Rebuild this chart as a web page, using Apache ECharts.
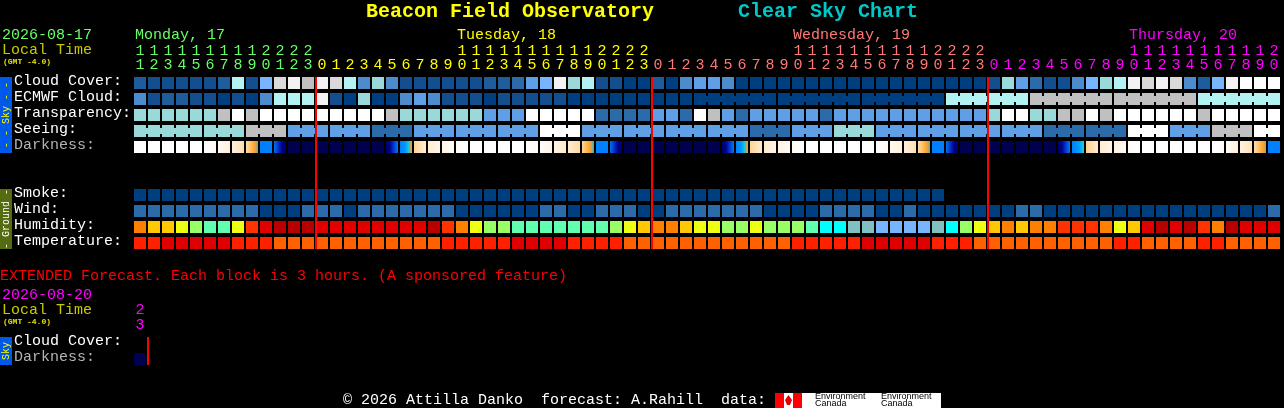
<!DOCTYPE html>
<html><head><meta charset="utf-8">
<style>html,body{margin:0;padding:0;background:#000}#c{width:1284px;height:408px}</style>
<script src="https://cdn.jsdelivr.net/npm/echarts@6/dist/echarts.min.js"></script>
</head><body><div id="c"></div>
<script>
const hours=[11,12,13,14,15,16,17,18,19,20,21,22,23,
0,1,2,3,4,5,6,7,8,9,10,11,12,13,14,15,16,17,18,19,20,21,22,23,
0,1,2,3,4,5,6,7,8,9,10,11,12,13,14,15,16,17,18,19,20,21,22,23,
0,1,2,3,4,5,6,7,8,9,10,11,12,13,14,15,16,17,18,19,20];
const skyRowNames=['Cloud Cover:','ECMWF Cloud:','Transparency:','Seeing:','Darkness:'];
const groundRowNames=['Smoke:','Wind:','Humidity:','Temperature:'];
const dayLabels=[['Monday, 17',135],['Tuesday, 18',457],['Wednesday, 19',793],['Thursday, 20',1129]];
const midnightAfter=[12,36,60];

const cloudCover=[2,1,1,1,1,1,2,8,1,6, 10,11,9,11,10,8,4,7,4,1, 1,1,1,1,1,2,2,3,5,6, 11,7,8,1,1,0,0,2,0,4, 5,5,4,0,0,0,0,0,0,0, 0,0,0,0,0,0,0,0,0,0, 0,1,7,5,3,1,1,4,6,7, 8,11,10,11,10,4,2,6,11,12, 12,12];
const ecmwfCloud=[4,1,2,2,1,1,0,1,0,4, 8,8,8,11,1,0,7,0,0,4, 5,4,1,1,1,0,1,1,1,1, 1,0,0,0,0,0,0,0,0,0, 0,0,0,0,0,0,0,0,0,0, 0,0,0,0,0,0,0,0,8,8, 8,8,8,8,9,9,9,9,9,9, 9,9,9,9,9,9,8,8,8,8, 8,8];
const transparency=[7,7,7,7,7,7,9,12,9,12, 12,12,12,12,12,12,12,12,9,7, 7,7,7,7,7,5,5,5,12,12, 12,12,12,3,3,3,3,5,5,3, 12,9,5,3,5,5,5,5,5,3, 5,5,5,5,5,5,5,5,5,5, 5,7,12,12,7,7,9,9,12,9, 12,12,12,12,12,12,9,12,12,12, 12,12];
const seeing=[7,7,7,7,7,7,7,7,9,9, 9,5,5,5,5,5,5,3,3,3, 5,5,5,5,5,5,5,5,5,12, 12,12,5,5,5,5,5,5,5,5, 5,5,5,5,3,3,3,5,5,5, 7,7,7,5,5,5,5,5,5,5, 5,5,5,5,5,3,3,3,3,3, 3,12,12,12,5,5,5,9,9,9, 12,12];
const darknessFrom=[1,1,1,1,1,1,.94,.84,.66,.22, .2,0,0,0,0,0,0,0,.02,.22, .62,.8,.9,.95,1,1,1,1,1,.96, .88,.78,.62,.22,.2,0,0,0,0,0, 0,0,.02,.22,.62,.8,.88,.94,1,1, 1,1,1,1,.92,.84,.66,.22,.2,0, 0,0,0,0,0,0,.02,.22,.6,.8, .88,.96,1,1,1,1,1,1,.95,.85, .66,.22];
const darknessTo=[1,1,1,1,1,.94,.84,.68,.34,.22, .02,0,0,0,0,0,0,0,.21,.4, .8,.9,.95,1,1,1,1,1,.96,.88, .78,.66,.33,.22,.02,0,0,0,0,0, 0,0,.21,.4,.78,.88,.94,1,1,1, 1,1,1,.94,.86,.7,.34,.22,.02,0, 0,0,0,0,0,0,.21,.36,.78,.88, .94,1,1,1,1,1,1,.95,.85,.7, .36,.22];
const smoke=[0,0,0,0,0,0,0,0,0,0, 0,0,0,0,0,0,0,0,0,0, 0,0,0,0,0,0,0,0,0,0, 0,0,0,0,0,0,0,0,0,0, 0,0,0,0,0,0,0,0,0,0, 0,0,0,0,0,0,0,0];
const wind=[3,3,3,3,3,3,3,3,3,0, 0,0,3,3,3,0,3,3,3,3, 3,3,3,0,0,0,0,0,0,3, 3,0,0,3,3,3,0,0,3,3, 3,3,3,3,3,0,0,0,0,3, 3,3,3,0,0,3,0,0,0,0, 0,0,0,3,3,0,0,0,0,0, 0,0,0,0,0,0,0,0,0,0, 0,3];
const humidity=[7,6,6,5,4,3,3,5,8,9, 10,10,10,9,9,9,9,9,9,9, 9,10,8,7,5,4,4,3,3,3, 3,3,3,3,4,5,6,7,7,6, 5,5,4,4,5,4,4,4,3,2, 2,1,1,0,0,0,0,1,2,4, 5,6,7,6,7,7,8,8,8,7, 5,6,9,10,9,10,8,7,10,9, 9,9];
const temperature=[1,1,0,0,0,0,0,1,1,1, 2,2,2,2,2,2,2,2,2,2, 2,2,1,1,1,1,1,0,0,0, 0,1,1,1,1,2,2,2,2,2, 2,2,2,2,2,2,2,1,1,1, 1,1,0,0,0,0,0,1,1,1, 2,2,2,2,2,2,2,2,2,2, 1,1,2,2,2,2,1,1,2,2, 2,2];
const extHours=[23];
const extDarkness=[0];

const skyPalette=['#003F7F','#134F8F','#1F5C9C','#2C6BA9','#4C8CCC','#5F9FE5','#77B6FF','#99D9D9','#B2F2F2','#C0C0C0','#D9D9D9','#F2F2F2','#FFFFFF'];
const humidityPalette=['#77B6FF','#80C0C0','#00FFFF','#5FFFAF','#99FF66','#EEFF11','#FFC800','#FF8000','#FF3300','#E00000','#B80000'];
const tempPalette=['#E00000','#FF2000','#FF6000'];
const twilightRamp=[[0,'#000050'],[.08,'#000090'],[.15,'#0040D0'],[.22,'#0080FF'],[.3,'#0098FF'],[.34,'#00C8F0'],[.38,'#D0A050'],[.45,'#FFA830'],[.6,'#FFD090'],[.75,'#FFE8C4'],[.9,'#FFF6EA'],[1,'#FFFFFF']];
const MONO='"Liberation Mono",monospace';
const CELL=12;

function hex(c){return [1,3,5].map(i=>parseInt(c.substr(i,2),16));}
function ramp(v){
  for(let i=1;i<twilightRamp.length;i++){
    const a=twilightRamp[i-1],b=twilightRamp[i];
    if(v<=b[0]){const t=(v-a[0])/(b[0]-a[0]);const x=hex(a[1]),y=hex(b[1]);
      return 'rgb('+x.map((q,k)=>Math.round(q+(y[k]-q)*t)).join(',')+')';}
  }
  return '#FFFFFF';
}
function darkFill(a,b){
  if(a===b) return ramp(a);
  const st=[];for(let i=0;i<=10;i++){st.push({offset:i/10,color:ramp(a+(b-a)*i/10)});}
  return new echarts.graphic.LinearGradient(0,0,1,0,st);
}
function pad(n){return ''+n;}
const dayColors=['#66FF66','#FFFF00','#FF7878','#FF00FF'];
function dayOf(col){return col<13?0:col<37?1:col<61?2:3;}

const rowCats=[...skyRowNames,' ','  ',...groundRowNames];
const cells=[];
function addRow(row,vals,pal,linkFn){vals.forEach((v,col)=>{
  cells.push({value:[col,row],fill:pal[v],link:linkFn&&col<vals.length-1?linkFn(col):false});});}
addRow(0,cloudCover,skyPalette);
addRow(1,ecmwfCloud,skyPalette,c=>c>=40&&(c-40)%6!==5);
addRow(2,transparency,skyPalette);
addRow(3,seeing,skyPalette,c=>(c-2)%3!==2);
darknessFrom.forEach((a,col)=>cells.push({value:[col,4],fill:darkFill(a,darknessTo[col]),link:false}));
addRow(7,smoke,skyPalette);
addRow(8,wind,skyPalette);
addRow(9,humidity,humidityPalette);
addRow(10,temperature,tempPalette);

function renderCell(params,api){
  const d=cellsOf(params.seriesIndex)[params.dataIndex];
  const p=api.coord([d.value[0],d.value[1]]);
  const x=Math.round(p[0]-CELL/2),y=Math.round(p[1]-CELL/2);
  const children=[{type:'rect',shape:{x,y,width:CELL,height:CELL},style:{fill:d.fill}}];
  if(d.link) children.push({type:'rect',shape:{x:x+CELL,y:y+3,width:2,height:6},style:{fill:d.fill}});
  return {type:'group',children};
}
const extCells=extDarkness.map(v=>({value:[0,1],fill:ramp(v),link:false}));
function cellsOf(si){return si===0?cells:extCells;}

function renderRed(bottomRow){return function(params,api){
  const col=api.value(0);
  const t=api.coord([col,0]),b=api.coord([col,bottomRow]);
  return {type:'rect',shape:{x:Math.round(t[0]+7),y:Math.round(t[1]-CELL/2),width:2,height:Math.round(b[1]+CELL/2)-Math.round(t[1]-CELL/2)},style:{fill:'#FF0000'}};
};}

function hourAxis(gridIndex,data,top,colorFn){
  return {type:'category',gridIndex,position:'top',offset:top,data,boundaryGap:true,
    axisLine:{show:false},axisTick:{show:false},splitLine:{show:false},
    axisLabel:{show:true,interval:0,margin:2,fontFamily:MONO,fontSize:15,color:colorFn,hideOverlap:false}};
}
function rowAxis(gridIndex,data,showLabels){
  return {type:'category',gridIndex,inverse:true,data,
    axisLine:{show:false},axisTick:{show:false},splitLine:{show:false},
    axisLabel:{show:showLabels,interval:0,align:'left',margin:119,fontFamily:MONO,fontSize:15,
      color:v=>v==='Darkness:'?'#B4B4B4':'#FFFFFF'}};
}
const T=(text,x,y,fill,extra)=>({type:'text',x,y,silent:true,style:Object.assign({text,fill,font:'15px '+MONO,verticalAlign:'middle'},extra||{})});
const rotated=(text,cx,cy,fill)=>({type:'text',x:cx,y:cy,rotation:Math.PI/2,silent:true,style:{text,fill,font:'10px '+MONO,align:'center',verticalAlign:'middle'}});
const B=(x,y,w,h,fill)=>({type:'rect',silent:true,shape:{x,y,width:w,height:h},style:{fill}});

const graphic=[
  T('Beacon Field Observatory',366,12,'#FFFF00',{font:'bold 20px '+MONO}),
  T('Clear Sky Chart',738,12,'#00C8C8',{font:'bold 20px '+MONO}),
  T('2026-08-17',2,35,'#66FF66'),
  T('Local Time',2,50,'#C8C800'),
  T('(GMT -4.0)',3,62,'#E0E000',{font:'bold 8px '+MONO}),
  ...dayLabels.map((d,i)=>T(d[0],d[1],35,dayColors[i])),
  B(0,77,12,76,'#0058E8'),rotated('- - Sky - -',6,115,'#FFFF00'),
  B(0,189,12,60,'#556B0F'),rotated('- Ground -',6,219,'#FFFFFF'),
  T('EXTENDED Forecast. Each block is 3 hours. (A sponsored feature)',0,276,'#FF0000'),
  T('2026-08-20',2,295,'#FF00FF'),
  T('Local Time',2,310,'#C8C800'),
  T('(GMT -4.0)',3,322,'#E0E000',{font:'bold 8px '+MONO}),
  B(0,337,12,28,'#0058E8'),rotated('Sky',6,351,'#FFFF00'),
  T('\u00A9 2026 Attilla Danko  forecast: A.Rahill  data:',343,400,'#FFFFFF'),
  B(775,393,27,15,'#FF0000'),B(784,393,9,15,'#FFFFFF'),
  {type:'polygon',silent:true,shape:{points:[[788.5,395],[792,400],[790,405],[787,405],[785,400]]},style:{fill:'#E00000'}},
  B(802,393,139,15,'#FFFFFF'),
  T('Environment',815,397,'#000000',{font:'9px "Liberation Sans",sans-serif'}),
  T('Canada',815,404,'#000000',{font:'9px "Liberation Sans",sans-serif'}),
  T('Environment',881,397,'#000000',{font:'9px "Liberation Sans",sans-serif'}),
  T('Canada',881,404,'#000000',{font:'9px "Liberation Sans",sans-serif'})
];

const hiddenX=g=>({type:'category',gridIndex:g,show:false,data:['']});
const chart=echarts.init(document.getElementById('c'),null,{renderer:'canvas',width:1284,height:408});
chart.setOption({
  animation:false,backgroundColor:'#000000',tooltip:{show:false},legend:{show:false},
  grid:[
    {left:133,top:75,width:1148,height:176},
    {left:133,top:335,width:14,height:32},
    {left:133,top:73,width:1148,height:176},
    {left:133,top:333,width:14,height:32}
  ],
  xAxis:[
    hourAxis(0,hours.map(h=>pad(h%10)),0,(v,i)=>dayColors[dayOf(i)]),
    hourAxis(0,hours.map(h=>h>=10?pad(Math.floor(h/10)):''),14,(v,i)=>dayColors[dayOf(i)]),
    hourAxis(1,extHours.map(h=>pad(h%10)),0,()=>'#FF00FF'),
    hourAxis(1,extHours.map(h=>pad(Math.floor(h/10))),15,()=>'#FF00FF'),
    hiddenX(2),hiddenX(3)
  ],
  yAxis:[rowAxis(0,rowCats,false),rowAxis(1,['Cloud Cover:','Darkness:'],false),rowAxis(2,rowCats,true),rowAxis(3,['Cloud Cover:','Darkness:'],true)],
  series:[
    {type:'custom',xAxisIndex:0,yAxisIndex:0,clip:false,renderItem:renderCell,data:cells,encode:{x:0,y:1},z:2},
    {type:'custom',xAxisIndex:2,yAxisIndex:1,clip:false,renderItem:renderCell,data:extCells,encode:{x:0,y:1},z:2},
    {type:'custom',xAxisIndex:0,yAxisIndex:0,clip:false,renderItem:renderRed(10),data:midnightAfter.map(c=>[c]),encode:{x:0},z:3},
    {type:'custom',xAxisIndex:2,yAxisIndex:1,clip:false,renderItem:renderRed(1),data:[[0]],encode:{x:0},z:3}
  ],
  graphic
});
</script></body></html>
